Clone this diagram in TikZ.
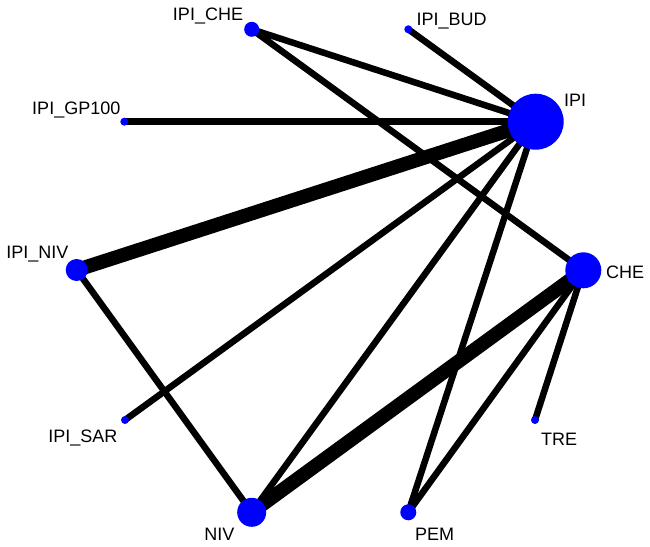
\documentclass[tikz,border=0pt]{standalone}
\usepackage{fontspec}
\setmainfont{Liberation Sans}
\usetikzlibrary{backgrounds}

\begin{document}
\begin{tikzpicture}[x = 1pt , y = -1pt ,
    trt/.style = {circle , fill = blue , inner sep = 0pt , minimum size = #1},
    lbl/.style = {inner sep = 0pt , font = \fontsize{18}{20}\selectfont},
    edge/.style = {line width = 6.5pt},
    bigedge/.style = {line width = 14pt}]
    \useasboundingbox (0,0) rectangle (650,546);
    % Behandlungen
    \node[trt = 15pt] (ipiche) at (251.7, 29.3) {};
    \node[trt = 8pt] (ipibud) at (408.3, 29.3) {};
    \node[trt = 56pt] (ipi) at (535.7, 121.7) {};
    \node[trt = 8pt] (ipigp) at (124.3, 121.7) {};
    \node[trt = 22pt] (ipiniv) at (76.7, 270) {};
    \node[trt = 36pt] (che) at (583.3, 270.3) {};
    \node[trt = 8pt] (ipisar) at (125, 420) {};
    \node[trt = 8pt] (tre) at (535, 420) {};
    \node[trt = 29pt] (niv) at (251.7, 512.3) {};
    \node[trt = 16pt] (pem) at (408.3, 512.3) {};
    % Beschriftungen
    \node[lbl , anchor = base] (l-ipiche) at (208, 20) {IPI\_CHE};
    \node[lbl , anchor = base west] (l-ipibud) at (416.5, 25.5) {IPI\_BUD};
    \node[lbl , anchor = base west] (l-ipi) at (564, 106) {IPI};
    \node[lbl , anchor = base east] (l-ipigp) at (120.5, 114) {IPI\_GP100};
    \node[lbl , anchor = base east] (l-ipiniv) at (68.5, 258) {IPI\_NIV};
    \node[lbl , anchor = base west] (l-che) at (606, 278) {CHE};
    \node[lbl , anchor = base east] (l-ipisar) at (117.5, 442.5) {IPI\_SAR};
    \node[lbl , anchor = base west] (l-tre) at (541, 445) {TRE};
    \node[lbl , anchor = base east] (l-niv) at (234.5, 540) {NIV};
    \node[lbl , anchor = base west] (l-pem) at (415, 540) {PEM};
    % Vergleiche
    \begin{scope}[on background layer]
        \draw[edge] (ipiche.center) -- (ipi.center);
        \draw[edge] (ipiche.center) -- (che.center);
        \draw[edge] (ipibud.center) -- (ipi.center);
        \draw[edge] (ipigp.center) -- (ipi.center);
        \draw[bigedge] (ipiniv.center) -- (ipi.center);
        \draw[edge] (ipiniv.center) -- (niv.center);
        \draw[edge] (ipisar.center) -- (ipi.center);
        \draw[edge] (ipi.center) -- (niv.center);
        \draw[edge] (ipi.center) -- (pem.center);
        \draw[bigedge] (che.center) -- (niv.center);
        \draw[edge] (che.center) -- (pem.center);
        \draw[edge] (che.center) -- (tre.center);
    \end{scope}
\end{tikzpicture}
\end{document}
